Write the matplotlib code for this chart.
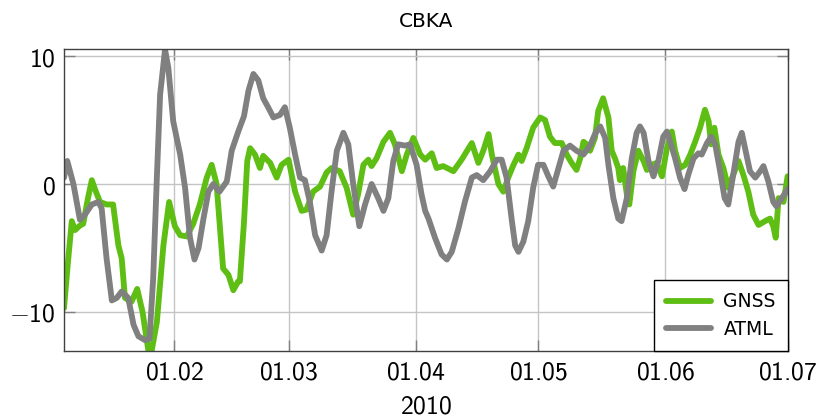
import matplotlib
matplotlib.use("Agg")
import matplotlib.pyplot as plt
import matplotlib.dates as mdates
from matplotlib.ticker import FuncFormatter
import pandas as pd

plt.rcParams['font.family'] = ['DejaVu Sans']
plt.rcParams['mathtext.fontset'] = 'custom'
plt.rcParams['mathtext.rm'] = 'cmss10'
plt.rcParams['mathtext.sf'] = 'cmss10'
plt.rcParams['mathtext.it'] = 'cmss10'
plt.rcParams['mathtext.bf'] = 'cmss10'

start = pd.Timestamp('2010-01-05')
end = pd.Timestamp('2010-07-01')

# GNSS series: day offsets from 2010-01-05 and values
gnss_days = [0.0, 1.0, 1.9, 2.7, 3.7, 4.7, 5.8, 6.8, 7.8, 8.8, 10.4, 12.0, 13.3, 14.1,
             14.9, 16.5, 17.9, 19.2, 21.0, 22.7, 24.3, 25.7, 27.1, 28.4, 30.0, 31.6,
             33.2, 34.9, 36.1, 37.3, 38.9, 40.2, 41.4, 42.6, 43.0, 44.0, 44.8, 45.5,
             46.7, 47.9, 48.7, 50.4, 52.0, 53.2, 54.9, 56.5, 58.1, 59.3, 60.9, 62.6,
             64.2, 65.4, 67.4, 69.1, 70.7, 71.9, 73.2, 74.4, 75.2, 76.4, 78.1, 79.7,
             80.9, 82.6, 83.8, 85.4, 87.1, 88.3, 89.9, 91.1, 92.7, 95.2, 97.2, 99.7,
             101.3, 102.5, 103.8, 104.6, 106.2, 107.4, 108.6, 109.9, 111.1, 111.9,
             113.1, 114.7, 116.4, 117.6, 118.8, 120.0, 121.7, 122.9, 124.1, 125.3,
             126.2, 127.0, 127.8, 128.6, 129.8, 130.6, 131.8, 133.1, 133.9, 134.7,
             135.5, 135.9, 136.7, 137.6, 138.2, 139.2, 140.4, 141.7, 142.5, 143.7,
             144.9, 146.2, 147.4, 148.6, 149.4, 150.6, 151.9, 153.1, 154.3, 155.5,
             156.7, 157.6, 158.2, 159.0, 160.0, 161.2, 162.4, 163.6, 164.9, 166.1,
             167.3, 168.5, 169.8, 171.4, 172.6, 173.4, 174.0, 174.7, 175.9, 176.9]
gnss_vals = [-9.7, -6.0, -2.9, -3.6, -3.3, -3.1, -1.2, 0.3, -0.6, -1.4, -1.6, -1.6, -4.8, -5.8,
             -8.9, -9.2, -8.2, -10.0, -13.8, -10.8, -4.8, -1.4, -3.3, -4.0, -4.1, -3.1,
             -1.6, 0.5, 1.5, 0.0, -6.6, -7.1, -8.3, -7.6, -7.6, -3.0, 1.8, 2.8,
             2.3, 1.25, 2.2, 1.65, 0.5, 1.5, 1.9, -0.6, -2.1, -2.0, -0.6, -0.2,
             0.9, 1.25, 1.0, -0.3, -2.4, -0.8, 1.5, 1.9, 1.4, 2.0, 3.3, 4.0,
             3.1, 1.0, 2.3, 3.6, 2.3, 1.9, 2.4, 1.25, 1.4, 1.0, 1.9, 3.2,
             1.65, 2.6, 3.9, 2.3, 0.0, -0.6, 0.5, 1.5, 2.3, 1.8,
             2.8, 4.4, 5.2, 5.0, 3.7, 3.2, 3.2, 2.3, 1.65, 1.1,
             2.0, 3.3, 3.1, 2.6, 3.6, 5.7, 6.7, 5.2, 2.6, 2.0,
             1.25, 0.3, 1.25, -0.8, -1.6, 1.0, 2.6, 1.8, 1.1, 1.5,
             1.65, 0.6, 2.8, 4.1, 2.6, 1.25, 1.5, 2.3, 3.3, 4.4,
             5.8, 4.9, 3.1, 4.4, 2.3, 1.25, -0.3, 0.7, 1.8, 0.7,
             -0.6, -2.4, -3.2, -2.9, -2.7, -3.3, -4.2, -1.1, -1.4, 0.6]

# ATML series
atml_days = [0.0, 0.8, 2.3, 3.9, 5.1, 6.8, 8.4, 9.2, 10.4, 11.7, 12.9, 14.1, 15.7, 17.0,
             18.2, 19.8, 20.9, 21.8, 22.7, 23.5, 24.7, 25.5, 26.7, 28.4, 29.6, 30.8,
             31.9, 32.9, 34.1, 35.3, 36.5, 38.0, 39.8, 41.0, 42.6, 44.0, 45.1, 46.3,
             47.5, 48.7, 49.9, 51.2, 52.8, 54.0, 55.2, 56.5, 57.7, 58.9, 60.1, 61.4,
             63.0, 64.2, 65.4, 66.7, 68.3, 69.5, 70.7, 72.2, 73.6, 75.2, 76.8, 78.1,
             79.3, 80.5, 81.7, 83.4, 84.6, 86.2, 87.4, 88.3, 89.1, 90.7, 92.3, 93.6,
             94.8, 96.4, 98.0, 99.7, 100.9, 102.5, 104.2, 105.8, 107.0, 108.2, 109.5,
             110.3, 111.1, 112.3, 113.5, 114.7, 115.9, 117.2, 118.4, 119.6, 120.9,
             122.1, 123.7, 125.3, 127.0, 128.6, 129.8, 131.1, 132.3, 133.1, 134.3,
             135.5, 136.3, 137.6, 138.8, 140.0, 140.8, 141.7, 142.9, 144.1, 145.3,
             146.5, 147.4, 148.2, 149.4, 150.6, 151.7, 152.6, 153.9, 155.1, 155.9,
             157.2, 158.2, 159.2, 160.4, 161.5, 162.4, 163.6, 164.9, 165.7, 166.5,
             167.7, 169.0, 170.2, 171.0, 172.2, 173.4, 174.2, 175.5, 176.9]
atml_vals = [0.5, 1.8, 0.0, -2.8, -2.4, -1.6, -1.4, -1.9, -5.8, -9.1, -8.9, -8.4, -8.9, -11.0,
             -11.9, -12.2, -12.1, -7.4, 0.5, 7.0, 10.5, 9.1, 4.9, 2.3, -0.3, -4.2,
             -5.9, -5.0, -2.7, -0.6, 0.0, -0.6, 0.2, 2.6, 4.1, 5.3, 7.3, 8.6,
             8.1, 6.7, 6.0, 5.2, 5.4, 6.0, 4.4, 2.3, 0.5, 0.3, -1.4, -4.0,
             -5.2, -4.0, -0.6, 2.6, 4.0, 3.1, 0.0, -3.3, -1.6, 0.0, -1.1, -2.1,
             -1.1, 1.8, 3.1, 3.0, 3.1, 1.5, -0.8, -2.1, -2.7, -4.2, -5.5, -5.9,
             -5.3, -3.5, -1.4, 0.5, 0.7, 0.3, 1.0, 1.9, 1.9, 0.5, -2.9,
             -4.8, -5.3, -4.5, -2.9, -0.3, 1.5, 1.5, 0.6, -0.2, 1.25,
             2.6, 3.0, 2.6, 2.3, 3.0, 3.9, 4.5, 3.6, 1.5, -1.1,
             -2.7, -2.9, -1.1, 2.0, 4.0, 4.5, 4.0, 1.8, 0.6, 1.8,
             3.7, 4.1, 3.3, 2.0, 0.5, -0.4, 0.7, 2.0, 2.4, 2.3,
             3.2, 3.7, 3.1, 1.0, -1.1, -1.6, 0.7, 3.3, 4.0, 2.8,
             1.0, 0.5, 1.0, 1.4, 0.2, -1.4, -1.75, -1.1, -0.4]

series_labels = ['GNSS', 'ATML']
series_colors = ['#5fbe14', '#808080']
title_text = 'CBKA'
xlabel_text = '2010'
y_ticks = [-10, 0, 10]

gnss_dates = start + pd.to_timedelta(gnss_days, unit='D')
atml_dates = start + pd.to_timedelta(atml_days, unit='D')

fig = plt.figure(figsize=(8.2, 4.2), dpi=100)
ax = fig.add_axes([64 / 820, 1 - 351 / 420, (788 - 64) / 820, (351 - 49) / 420])

ax.plot(gnss_dates, gnss_vals, color=series_colors[0], lw=4.2, label=series_labels[0],
        solid_joinstyle='round', solid_capstyle='round')
ax.plot(atml_dates, atml_vals, color=series_colors[1], lw=4.2, label=series_labels[1],
        solid_joinstyle='round', solid_capstyle='round')

ax.set_xlim(start, end)
ax.set_ylim(-13.05, 10.55)

ax.xaxis.set_major_locator(mdates.MonthLocator(bymonth=[2, 3, 4, 5, 6, 7]))
ax.xaxis.set_major_formatter(FuncFormatter(
    lambda x, pos: r'$%s$' % mdates.num2date(x).strftime('%d.%m')))
ax.set_yticks(y_ticks)
ax.yaxis.set_major_formatter(FuncFormatter(lambda y, pos: r'$%d$' % int(y)))

ax.grid(True, color='#c4c4c4', lw=1.0)
ax.set_axisbelow(True)
ax.tick_params(direction='in', length=8, width=1, color='#808080',
               top=True, right=True, labelsize=18.5, pad=6)
for s in ax.spines.values():
    s.set_color('#404040')
    s.set_linewidth(1.0)

ax.set_title(title_text, fontsize=14.5, pad=16, family='DejaVu Sans')
ax.set_xlabel(r'$%s$' % xlabel_text, fontsize=18.5, labelpad=6)

leg = ax.legend(loc='lower right', borderaxespad=0, fancybox=False, framealpha=1,
                edgecolor='black', prop={'family': 'DejaVu Sans', 'size': 13.5},
                handlelength=2.4, handletextpad=0.65, labelspacing=0.45,
                borderpad=0.65)
leg.get_frame().set_linewidth(1.0)

fig.savefig('out.png', dpi=100)
